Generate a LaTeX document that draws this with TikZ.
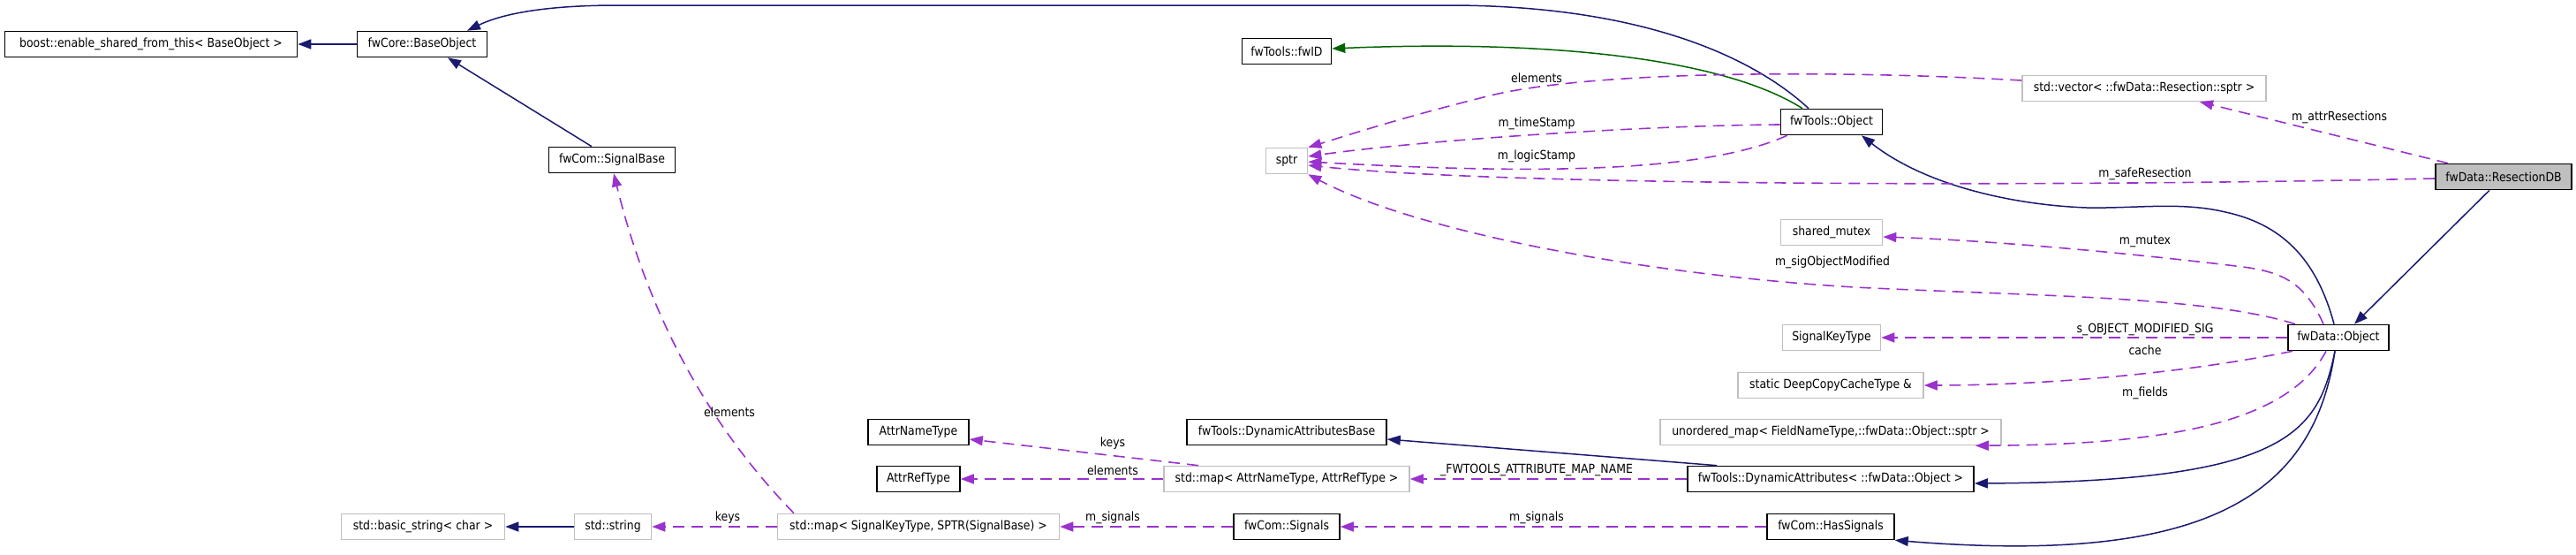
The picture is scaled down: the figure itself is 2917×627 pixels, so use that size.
\documentclass[tikz,border=0pt]{standalone}
\usepackage{fontspec}
\setmainfont{DejaVu Sans}[FakeStretch=0.89]
\usetikzlibrary{arrows.meta}
\definecolor{navy}{HTML}{191970}
\definecolor{dgreen}{HTML}{006400}
\definecolor{purp}{HTML}{9A32CD}
\definecolor{greyb}{HTML}{BFBFBF}
\tikzset{
  cls/.style={draw=black, line width=1.6pt, rectangle, minimum height=29pt, inner sep=0pt, fill=white, font=\fontsize{14}{16}\selectfont},
  ext/.style={cls, draw=greyb},
  sel/.style={cls, fill=greyb},
  lbl/.style={inner sep=0pt, font=\fontsize{14}{16}\selectfont},
  tip/.style={-{Triangle[length=15pt,width=11pt]}},
  inh/.style={tip, draw=navy, line width=1.5pt},
  tpl/.style={tip, draw=dgreen, line width=1.5pt},
  use/.style={tip, draw=purp, line width=1.6pt, dash pattern=on 13pt off 8pt}
}
\begin{document}
\begin{tikzpicture}[x=1pt,y=-1pt]
\useasboundingbox (0,0) rectangle (2917,627);
% nodes
\node[cls, minimum width=331pt] (boost) at (171,50) {boost::enable\_shared\_from\_this< BaseObject >};
\node[cls, minimum width=147pt] (baseobj) at (478,50) {fwCore::BaseObject};
\node[cls, minimum width=143pt] (sigbase) at (693,181) {fwCom::SignalBase};
\node[ext, minimum width=185pt] (bstr) at (479,596) {std::basic\_string< char >};
\node[ext, minimum width=87pt] (sstr) at (694,596) {std::string};
\node[ext, minimum width=319pt] (mapsig) at (1040,596) {std::map< SignalKeyType, SPTR(SignalBase) >};
\node[cls, minimum width=114pt] (attrname) at (1040,489) {AttrNameType};
\node[cls, minimum width=94pt] (attrref) at (1040,542) {AttrRefType};
\node[cls, minimum width=101pt] (fwid) at (1457,58) {fwTools::fwID};
\node[ext, minimum width=47pt] (sptr) at (1457,182) {sptr};
\node[cls, minimum width=226pt] (dynbase) at (1457,489) {fwTools::DynamicAttributesBase};
\node[ext, minimum width=278pt] (mapattr) at (1457,542) {std::map< AttrNameType, AttrRefType >};
\node[cls, minimum width=120pt] (signals) at (1457,596) {fwCom::Signals};
\node[ext, minimum width=276pt] (vec) at (2428,100) {std::vector< ::fwData::Resection::sptr >};
\node[cls, minimum width=115pt] (toolsobj) at (2074,138) {fwTools::Object};
\node[ext, minimum width=115pt] (mutex) at (2074,263) {shared\_mutex};
\node[ext, minimum width=111pt] (sigkey) at (2074,382) {SignalKeyType};
\node[ext, minimum width=210pt] (static) at (2073,436) {static DeepCopyCacheType \&};
\node[ext, minimum width=386pt] (umap) at (2073,489) {unordered\_map< FieldNameType,::fwData::Object::sptr >};
\node[cls, minimum width=324pt] (dynattr) at (2073,542) {fwTools::DynamicAttributes< ::fwData::Object >};
\node[cls, minimum width=144pt] (hassig) at (2073,596) {fwCom::HasSignals};
\node[cls, minimum width=114pt] (dataobj) at (2648,382) {fwData::Object};
\node[sel, minimum width=154pt] (resdb) at (2835,200) {fwData::ResectionDB};
% inheritance edges
\draw[inh] (baseobj.west) -- (boost.east);
\draw[inh] ([xshift=-23pt]sigbase.north) -- ([xshift=29pt]baseobj.south);
\draw[inh] ([xshift=-26pt]toolsobj.north) .. controls (1980,60) and (1850,6) .. (1640,6) -- (700,6) .. controls (620,6) and (570,15) .. ([xshift=51pt]baseobj.north);
\draw[tpl] ([xshift=-33pt]toolsobj.north) .. controls (1950,65) and (1750,45) .. ([yshift=3pt]fwid.east);
\draw[inh] ([xshift=-16pt]resdb.south) -- ([xshift=18pt]dataobj.north);
\draw[inh] ([xshift=-5pt]dataobj.north) .. controls (2625,300) and (2590,255) .. (2520,240) .. controls (2470,228) and (2420,236) .. (2363,235) .. controls (2280,232) and (2180,210) .. ([xshift=34pt]toolsobj.south);
\draw[inh] ([xshift=-4pt]dataobj.south) .. controls (2625,490) and (2590,545) .. ([yshift=-5pt]dynattr.east);
\draw[inh] ([xshift=-4pt]dataobj.south) .. controls (2620,560) and (2500,640) .. (hassig.south east);
\draw[inh] ([xshift=-129pt]dynattr.north) -- ([yshift=-8pt]dynbase.east);
\draw[inh] (sstr.west) -- (bstr.east);
% usage edges
\draw[use] ([yshift=9pt]vec.west) .. controls (2100,80) and (1800,78) .. (1680,110) .. controls (1580,135) and (1520,155) .. (sptr.north east);
\draw[use] ([yshift=-3pt]toolsobj.west) .. controls (1850,142) and (1600,160) .. ([yshift=5pt]sptr.east);
\draw[use] ([xshift=8pt]toolsobj.south west) .. controls (1920,200) and (1700,195) .. ([yshift=-1pt]sptr.east);
\draw[use] ([yshift=-2pt]resdb.west) .. controls (2300,212) and (1700,210) .. ([yshift=-5pt]sptr.east);
\draw[use] ([xshift=-49pt]dataobj.north) .. controls (2500,335) and (2300,335) .. (2100,325) .. controls (1850,310) and (1600,260) .. (sptr.south east);
\draw[use] ([xshift=-63pt]resdb.north) -- ([xshift=63pt]vec.south);
\draw[use] ([xshift=-17pt]dataobj.north) .. controls (2610,320) and (2585,308) .. (2540,302) .. controls (2400,285) and (2250,272) .. ([yshift=-5pt]mutex.east);
\draw[use] (dataobj.west) -- (sigkey.east);
\draw[use] ([xshift=-52pt]dataobj.south) .. controls (2460,425) and (2300,436) .. (static.east);
\draw[use] ([xshift=-14pt]dataobj.south) .. controls (2590,480) and (2450,503) .. ([xshift=-30pt]umap.south east);
\draw[use] (dynattr.west) -- (mapattr.east);
\draw[use] ([xshift=-100pt]mapattr.north) -- ([yshift=-8pt]attrname.east);
\draw[use] (mapattr.west) -- (attrref.east);
\draw[use] (hassig.west) -- (signals.east);
\draw[use] (signals.west) -- (mapsig.east);
\draw[use] (mapsig.west) -- (sstr.east);
\draw[use] ([xshift=-141pt]mapsig.north) .. controls (820,500) and (740,380) .. ([xshift=2pt]sigbase.south);
% labels
\node[lbl] (l1) at (1740,88) {elements};
\node[lbl] (l2) at (1740,140) {m\_timeStamp};
\node[lbl] (l3) at (1740,177) {m\_logicStamp};
\node[lbl] (l4) at (2649,133) {m\_attrResections};
\node[lbl] (l5) at (2429,197) {m\_safeResection};
\node[lbl] (l6) at (2429,273) {m\_mutex};
\node[lbl] (l7) at (2075,297) {m\_sigObjectModified};
\node[lbl] (l8) at (2429,373) {s\_OBJECT\_MODIFIED\_SIG};
\node[lbl] (l9) at (2429,396) {cache};
\node[lbl] (l10) at (2429,445) {m\_fields};
\node[lbl] (l11) at (1260,502) {keys};
\node[lbl] (l12) at (1260,532) {elements};
\node[lbl] (l13) at (1740,532) {\_FWTOOLS\_ATTRIBUTE\_MAP\_NAME};
\node[lbl] (l14) at (1260,586) {m\_signals};
\node[lbl] (l15) at (1740,586) {m\_signals};
\node[lbl] (l16) at (824,586) {keys};
\node[lbl] (l17) at (826,466) {elements};
\end{tikzpicture}
\end{document}
